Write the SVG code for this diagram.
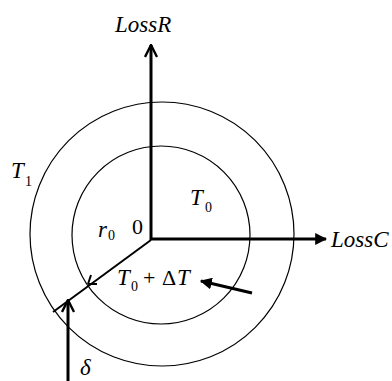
<svg xmlns="http://www.w3.org/2000/svg" width="392" height="381" viewBox="0 0 392 381">
<defs>
<style>
.t{font-family:"Liberation Serif","Times New Roman",serif;font-style:italic;font-size:23px;fill:#000}
.u{font-family:"Liberation Serif","Times New Roman",serif;font-size:22px;fill:#000}
.s{font-family:"Liberation Serif","Times New Roman",serif;font-size:14px;fill:#000}
.ring{fill:none;stroke:#000;stroke-width:1.2}
.ax{stroke:#000;stroke-width:3;fill:none}
.thin{stroke:#000;stroke-width:2;fill:none}
</style>
<marker id="open" viewBox="0 0 10 10" refX="9" refY="5" markerWidth="5" markerHeight="5" orient="auto" markerUnits="strokeWidth">
<path d="M1,1 L9,5 L1,9" fill="none" stroke="#000" stroke-width="1.6"/>
</marker>
<marker id="fill" viewBox="0 0 10 10" refX="9" refY="5" markerWidth="4" markerHeight="4" orient="auto" markerUnits="strokeWidth">
<path d="M0,0 L10,5 L0,10 Z" fill="#000"/>
</marker>
</defs>
<rect width="392" height="381" fill="#fff"/>
<g id="rings">
<circle class="ring" cx="162" cy="234" r="132"/>
<circle class="ring" cx="161" cy="235" r="89"/>
</g>
<g id="connectors">
<line class="ax" x1="151" y1="240" x2="151" y2="45" marker-end="url(#open)"/>
<line class="ax" x1="151" y1="239" x2="326" y2="239" marker-end="url(#fill)"/>
<line class="thin" x1="151" y1="240" x2="53" y2="312"/>
<path class="thin" d="M88,284 L91,275 M88,284 L97,284"/>
<line class="ax" x1="68" y1="381" x2="68" y2="300" marker-end="url(#open)"/>
<line class="ax" x1="252" y1="293" x2="201" y2="281" marker-end="url(#fill)"/>
</g>
<g id="labels">
<text class="t" x="115" y="32">LossR</text>
<text class="t" x="331" y="247">LossC</text>
<text class="t" x="11" y="178">T</text><text class="s" x="25" y="186">1</text>
<text class="t" x="190" y="205">T</text><text class="s" x="205" y="212">0</text>
<text class="t" x="98" y="237" font-size="20">r</text><text class="s" x="108" y="240">0</text>
<text class="u" x="132" y="234">0</text>
<text class="t" x="117" y="285">T</text><text class="s" x="131" y="291">0</text>
<text class="u" x="143" y="285">+</text>
<text class="u" x="162" y="285">Δ</text>
<text class="t" x="177" y="285">T</text>
<text class="t" x="80" y="375">δ</text>
</g>
</svg>
